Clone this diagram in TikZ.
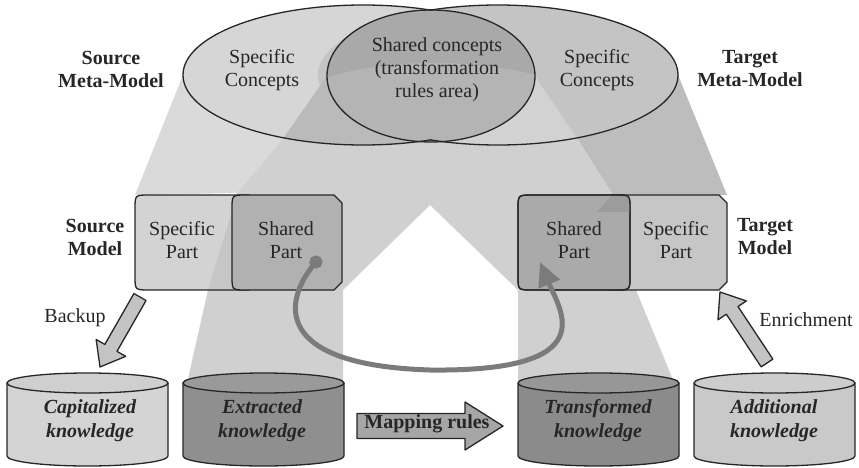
\documentclass[tikz,border=0pt]{standalone}
\usepackage{fontspec}
\setmainfont{Liberation Serif}
\usetikzlibrary{arrows.meta,calc}

\definecolor{ink}{HTML}{262626}
\definecolor{lfill}{HTML}{D6D6D6}
\definecolor{rfill}{HTML}{C4C4C4}
\definecolor{mfill}{HTML}{A9A9A9}
\definecolor{mlow}{HTML}{B4B4B4}
\definecolor{beamA}{HTML}{DADADA}
\definecolor{beamD}{HTML}{BDBDBD}
\definecolor{beamBC}{HTML}{D0D0D0}
\definecolor{lbwedge}{HTML}{BABABA}
\definecolor{rcwedge}{HTML}{D2D2D2}
\definecolor{sspfill}{HTML}{D3D3D3}
\definecolor{sspshade}{HTML}{C6C6C6}
\definecolor{sshfill}{HTML}{B1B1B1}
\definecolor{tshfill}{HTML}{AAAAAA}
\definecolor{tshshade}{HTML}{9C9C9C}
\definecolor{tspfill}{HTML}{C6C6C6}
\definecolor{capfill}{HTML}{D4D4D4}
\definecolor{captop}{HTML}{CFCFCF}
\definecolor{extfill}{HTML}{8F8F8F}
\definecolor{exttop}{HTML}{9A9A9A}
\definecolor{trafill}{HTML}{8B8B8B}
\definecolor{tratop}{HTML}{979797}
\definecolor{addfill}{HTML}{C9C9C9}
\definecolor{addtop}{HTML}{CDCDCD}
\definecolor{blockfill}{HTML}{C4C4C4}
\definecolor{mapfill}{HTML}{A6A6A6}
\definecolor{loopcol}{HTML}{7B7B7B}

% block arrow between two named points: shaft half width, head half width, head length
\newcommand{\blockarrow}[5]{%
  \coordinate (ba-h) at ($(#2)!#5!(#1)$);
  \filldraw[blockstyle]
    ($(#1)!#3!90:(#2)$) -- ($(ba-h)!#3!-90:(#1)$) -- ($(ba-h)!#4!-90:(#1)$) -- (#2)
    -- ($(ba-h)!#4!90:(#1)$) -- ($(ba-h)!#3!90:(#1)$) -- ($(#1)!#3!-90:(#2)$) -- cycle;
}

% cylinder: left x, fill, top fill
\newcommand{\drum}[3]{%
  \filldraw[fill=#2, outline] (#1,383) -- (#1,456)
    arc[start angle=180, end angle=0, x radius=80.5, y radius=10] -- ({#1+161},383) -- cycle;
  \filldraw[fill=#3, outline] ({#1+80.5},383) ellipse[x radius=80.5, y radius=10];
}

\begin{document}
\begin{tikzpicture}[x=1pt, y=-1pt, line join=round,
  outline/.style={draw=ink, line width=1.3pt},
  txt/.style={font=\fontsize{20}{23}\selectfont, text=ink, align=center, inner sep=0pt},
  lbl/.style={txt, font=\fontsize{20}{23}\selectfont\bfseries},
  dbtxt/.style={txt, font=\fontsize{20}{24}\selectfont\bfseries\itshape},
  blockstyle/.style={fill=blockfill, draw=ink, line width=1.3pt},
  loop/.style={draw=loopcol, line width=5pt,
    {Circle[length=13pt]}-{Triangle[length=24pt,width=22pt]}},
]
\useasboundingbox (0,0) rectangle (859,468);
\fill[white] (0,0) rectangle (859,468);

% ---- projection beams, behind the meta-model ellipses ----
\fill[beamA] (183,75) -- (300,118) -- (282,140) -- (237,193) -- (135,195) -- cycle;
\fill[beamD] (678,75) -- (560,118) -- (578,140) -- (613,195) -- (727,195) -- cycle;
\def\beamB{(327,76) -- (535,76) -- (430,205) -- (343,290) -- (343,392) -- (185,392) -- (208,290) -- (237,193) -- (282,140) -- cycle}
\def\beamC{(535,76) -- (327,76) -- (430,205) -- (518,290) -- (518,392) -- (678,392) -- (636,290) -- (613,195) -- (578,140) -- cycle}
\fill[beamBC] \beamB;
\fill[beamBC] \beamC;

% ---- meta-model ellipses ----
\fill[lfill] (363,75) ellipse[x radius=180, y radius=70];
\fill[rfill] (498,75) ellipse[x radius=180, y radius=70];
\begin{scope}
  \clip (363,75) ellipse[x radius=180, y radius=70];
  \fill[lbwedge] \beamB;
\end{scope}
\begin{scope}
  \clip (498,75) ellipse[x radius=180, y radius=70];
  \fill[rcwedge] \beamC;
\end{scope}
\fill[mfill] (431,76) ellipse[x radius=104, y radius=66];
\begin{scope}
  \clip (431,76) ellipse[x radius=104, y radius=66];
  \fill[mlow] (320,79) .. controls (390,58) and (470,58) .. (540,76) -- (540,150) -- (320,150) -- cycle;
\end{scope}
\begin{scope}
  \clip (0,0) rectangle (431,160);
  \draw[outline] (363,75) ellipse[x radius=180, y radius=70];
\end{scope}
\begin{scope}
  \clip (430,0) rectangle (859,160);
  \draw[outline] (498,75) ellipse[x radius=180, y radius=70];
\end{scope}
\draw[outline] (431,76) ellipse[x radius=104, y radius=66];

\node[lbl] (srcmm) at (111,69) {Source\\Meta-Model};
\node[lbl] (tgtmm) at (750,69) {Target\\Meta-Model};
\node[txt] (lspec) at (262,70) {Specific\\Concepts};
\node[txt] (shared) at (437,70) {Shared concepts\\(transformation\\rules area)};
\node[txt] (rspec) at (597,70) {Specific\\Concepts};

% ---- source model ----
\path[fill=sspfill] (250,195) -- (149,195) .. controls (135,195) .. (135,209) -- (135,276)
  .. controls (135,290) .. (149,290) -- (250,290) -- cycle;
\fill[sspshade] (237,195) -- (250,195) -- (250,290) -- (208,290) -- cycle;
\draw[outline] (250,195) -- (149,195) .. controls (135,195) .. (135,209) -- (135,276)
  .. controls (135,290) .. (149,290) -- (250,290);
\filldraw[fill=sshfill, outline] (246,195) -- (334,195) -- (342,203) -- (342,282) -- (334,290)
  -- (246,290) .. controls (232,290) .. (232,276) -- (232,209) .. controls (232,195) .. (246,195) -- cycle;

% ---- target model ----
\filldraw[fill=tspfill, outline] (610,195) -- (719,195) -- (727,203) -- (727,282) -- (719,290) -- (610,290) -- cycle;
\filldraw[fill=tshfill, outline] (532,195) -- (616,195) .. controls (630,195) .. (630,209) -- (630,276)
  .. controls (630,290) .. (616,290) -- (532,290) .. controls (518,290) .. (518,276) -- (518,209)
  .. controls (518,195) .. (532,195) -- cycle;
\begin{scope}
  \clip (532,195) -- (616,195) .. controls (630,195) .. (630,209) -- (630,276) -- (518,276) -- (518,209)
    .. controls (518,195) .. (532,195) -- cycle;
  \fill[tshshade] (611,196) -- (631,196) -- (631,212) -- (597,212) -- cycle;
\end{scope}
\draw[outline] (532,195) -- (616,195) .. controls (630,195) .. (630,209) -- (630,276)
  .. controls (630,290) .. (616,290) -- (532,290) .. controls (518,290) .. (518,276) -- (518,209)
  .. controls (518,195) .. (532,195) -- cycle;

\node[lbl] (srcmodel) at (95,237) {Source\\Model};
\node[lbl] (tgtmodel) at (765,237) {Target\\Model};
\node[txt] (sspec) at (182,240) {Specific\\Part};
\node[txt] (sshared) at (286,240) {Shared\\Part};
\node[txt] (tshared) at (574,240) {Shared\\Part};
\node[txt] (tspec) at (676,240) {Specific\\Part};

% ---- knowledge bases ----
\drum{7}{capfill}{captop}
\drum{183}{extfill}{exttop}
\drum{518}{trafill}{tratop}
\drum{694}{addfill}{addtop}
\node[dbtxt] (cap) at (90,421) {Capitalized\\knowledge};
\node[dbtxt] (ext) at (262,421) {Extracted\\knowledge};
\node[dbtxt] (tra) at (598,421) {Transformed\\knowledge};
\node[dbtxt] (add) at (774,421) {Additional\\knowledge};

% ---- block arrows ----
\coordinate (bkfrom) at (140,297);
\coordinate (bkto) at (100,367);
\blockarrow{bkfrom}{bkto}{7pt}{17pt}{22pt}
\node[txt] (backup) at (75,318) {Backup};

\coordinate (enfrom) at (767,363);
\coordinate (ento) at (720,292);
\blockarrow{enfrom}{ento}{7pt}{17pt}{22pt}
\node[txt] (enrich) at (806,320) {Enrichment};

\coordinate (mapfrom) at (357,426);
\coordinate (mapto) at (503,426);
\begin{scope}[blockstyle/.append style={fill=mapfill}]
  \blockarrow{mapfrom}{mapto}{12.5pt}{24pt}{38pt}
\end{scope}
\node[lbl] (maprules) at (427,424) {Mapping rules};

% ---- shared part carried from source model to target model ----
\coordinate (loopstart) at (320,257);
\coordinate (loopbottom) at (430,370);
\coordinate (loopend) at (540,262);
\draw[loop] (loopstart) .. controls (285,300) and (270,365) .. (loopbottom)
  .. controls (605,372) and (560,310) .. (loopend);
\end{tikzpicture}
\end{document}
